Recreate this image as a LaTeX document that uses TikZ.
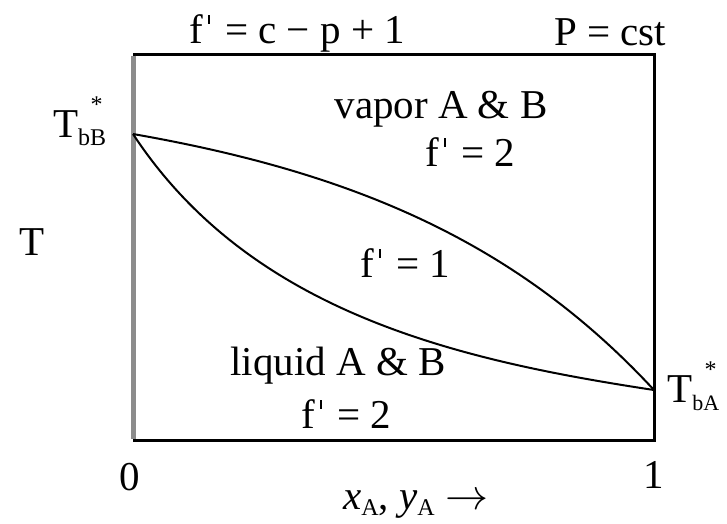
\documentclass[tikz,border=0pt]{standalone}
\usepackage{fontspec}
\setmainfont{Liberation Serif}
\newcommand{\apos}{\hspace{0.12em}\rule[0.47em]{0.055em}{0.22em}\hspace{0.12em}}
\newcommand{\rarr}{\resizebox{1.05em}{!}{$\rightarrow$}}
\begin{document}
\begin{tikzpicture}[x=1pt,y=-1pt,
  lbl/.style={inner sep=0pt,font=\fontsize{41}{45}\selectfont,anchor=base},
  frame/.style={line width=3pt,black},
  curve/.style={line width=2pt,black}]
\useasboundingbox (0,0) rectangle (727,523);
\coordinate (TL) at (133,54);
\coordinate (TR) at (654,54);
\coordinate (BR) at (654,440);
\coordinate (BL) at (133,440);
\coordinate (PB) at (133,134);
\coordinate (PA) at (654,390);
% frame
\draw[frame] (TL) -- (TR) -- (BR) -- (BL);
\draw[line width=5pt,gray!90] ([yshift=-1.5pt]TL) -- ([yshift=1.5pt]BL);
% vapor curve (dew)
\draw[curve] (PB) .. controls (350,172) and (515,240) .. (PA);
% liquid curve (bubble)
\draw[curve] (PB) .. controls (250,312) and (456,360) .. (PA);
% labels
\node[lbl] (rule) at (297,43) {f\apos\ = c − p + 1};
\node[lbl] (pcst) at (610,45) {P = cst};
\node[lbl] (vap) at (441,118) {vapor A \& B};
\node[lbl] (f2a) at (470,166) {f\apos\ = 2};
\node[lbl] (f1) at (405,277) {f\apos\ = 1};
\node[lbl] (liq) at (338,375) {liquid A \& B};
\node[lbl] (f2b) at (346,428) {f\apos\ = 2};
\node[lbl] (zero) at (130,490) {0};
\node[lbl] (one) at (654,488) {1};
\node[lbl] (Tax) at (32,255) {T};
\node[lbl,anchor=base west] (TbB) at (53,137) {T\makebox[0pt][l]{\hspace{0.3em}\raisebox{0.6em}{\fontsize{24}{24}\selectfont *}}\raisebox{-0.2em}{\fontsize{24}{24}\selectfont bB}};
\node[lbl,anchor=base west] (TbA) at (667,402) {T\makebox[0pt][l]{\hspace{0.3em}\raisebox{0.6em}{\fontsize{24}{24}\selectfont *}}\raisebox{-0.2em}{\fontsize{22}{22}\selectfont bA}};
\node[lbl,anchor=base west] (xy) at (343,509) {\textit{x}\raisebox{-0.15em}{\fontsize{24}{24}\selectfont A}, \textit{y}\raisebox{-0.15em}{\fontsize{24}{24}\selectfont A} \rarr};
\end{tikzpicture}
\end{document}
